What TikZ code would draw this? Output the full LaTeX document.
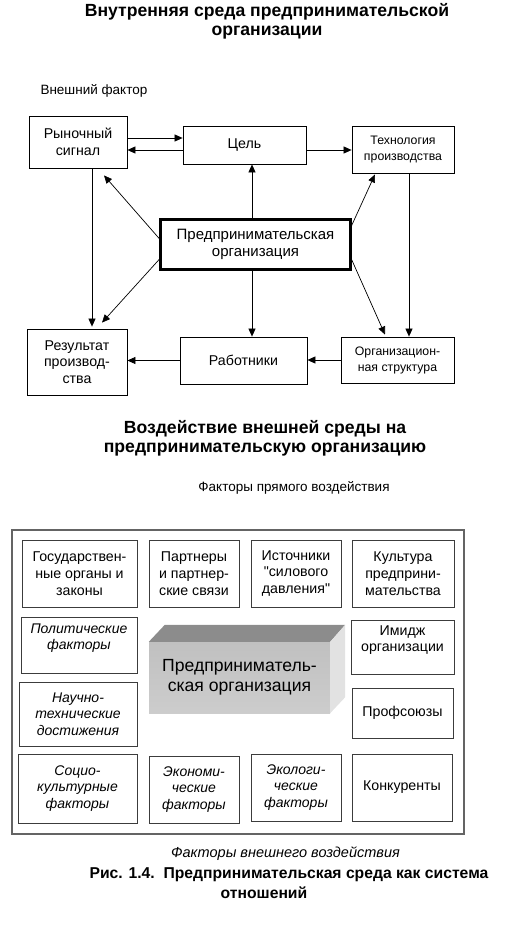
\documentclass[tikz,border=0pt]{standalone}
\usepackage{fontspec}
\setmainfont{Liberation Sans}
\usetikzlibrary{arrows.meta,calc}
\definecolor{frame_grey}{RGB}{100,100,100}
\definecolor{box_grey}{RGB}{60,60,60}
\definecolor{face_grey}{RGB}{192,192,192}
\definecolor{top_grey}{RGB}{140,140,140}
\definecolor{side_grey}{RGB}{226,226,226}
\tikzstyle{box}=[rectangle,draw=black,line width=0.8pt,align=center,
  inner sep=2pt,font=\fontsize{14.2}{16.5}\selectfont]
\tikzstyle{small}=[box,font=\fontsize{12.3}{16}\selectfont]
\tikzstyle{core}=[box,line width=3pt,font=\fontsize{15}{17.5}\selectfont]
\tikzstyle{fbox}=[rectangle,draw=box_grey,line width=0.8pt,align=center,
  inner sep=2pt,font=\fontsize{14.2}{16.7}\selectfont]
\tikzstyle{ifbox}=[fbox,font=\fontsize{14}{16.7}\selectfont\itshape]
\tikzstyle{frame}=[rectangle,draw=frame_grey,line width=1.3pt]
\tikzstyle{front}=[rectangle,top color=face_grey,bottom color=face_grey!80,
  align=center,font=\fontsize{17.6}{20}\selectfont]
\tikzstyle{title}=[align=center,font=\fontsize{17.6}{19}\selectfont\bfseries]
\tikzstyle{caption}=[title,font=\fontsize{15.7}{18}\selectfont\bfseries]
\tikzstyle{note}=[font=\fontsize{13.5}{15}\selectfont]
\tikzstyle{inote}=[note,font=\fontsize{14.5}{16}\selectfont\itshape]
\tikzstyle{arr}=[-{Triangle[length=8pt,width=7pt]},line width=0.7pt]
\tikzstyle{none}=[]

\begin{document}
\begin{tikzpicture}[x=1pt, y=-1pt]
        \useasboundingbox (0, 0) rectangle (523, 937);
        % internal environment
        \node [style=title] (title1) at (267, 21) {Внутренняя среда предпринимательской\\организации};
        \node [style=note, anchor=west] (external) at (37, 91) {Внешний фактор};
		\node [style=box, minimum width=98, minimum height=52] (signal) at (78, 142) {Рыночный\\сигнал};
		\node [style=box, minimum width=123, minimum height=38] (goal) at (244.5, 145) {Цель};
		\node [style=small, minimum width=102, minimum height=47] (tech) at (403, 149.5) {Технология\\производства};
		\node [style=core, minimum width=190, minimum height=50] (org) at (255.5, 244.5) {Предпринимательская\\организация};
		\node [style=box, minimum width=100, minimum height=66] (result) at (77, 362) {Результат\\производ-\\ства};
		\node [style=box, minimum width=127, minimum height=47] (staff) at (243.5, 360.5) {Работники};
		\node [style=small, minimum width=113, minimum height=46] (struct) at (397.5, 360) {Организацион-\\ная структура};
		\draw [style=arr] ([yshift=4pt]signal.east) to ([yshift=4pt]signal.east -| goal.west);
		\draw [style=arr] ([yshift=-8pt]signal.east -| goal.west) to ([yshift=-8pt]signal.east);
		\draw [style=arr] ([yshift=-5pt]goal.east) to ([yshift=-5pt]goal.east -| tech.west);
		\draw [style=arr] ([xshift=-3.5pt]org.north) to ([xshift=-3.5pt]org.north |- goal.south);
		\draw [style=arr] ([xshift=-3.5pt]org.south) to ([xshift=-3.5pt]org.south |- staff.north);
		\draw [style=arr] ([xshift=1.5pt,yshift=4.5pt]org.west) to ([xshift=26pt,yshift=-7pt]signal.south);
		\draw [style=arr] ([xshift=1.5pt,yshift=-13.5pt]org.west) to ([xshift=25pt,yshift=6pt]result.north);
		\draw [style=arr] ([xshift=-1.5pt,yshift=16.5pt]org.east) to ([xshift=-28pt,yshift=-1pt]tech.south);
		\draw [style=arr] ([xshift=-1.5pt,yshift=-12.5pt]org.east) to ([xshift=-12.5pt,yshift=2pt]struct.north);
		\draw [style=arr] ([xshift=14pt]signal.south) to ([xshift=14pt,yshift=2pt]signal.south |- result.north);
		\draw [style=arr] ([xshift=6pt]tech.south) to ([xshift=6pt]tech.south |- struct.north);
		\draw [style=arr] (staff.west) to (staff.west -| result.east);
		\draw [style=arr] (struct.west) to (struct.west -| staff.east);
        % external environment
        \node [style=title] (title2) at (265, 438) {Воздействие внешней среды на\\предпринимательскую организацию};
        \node [style=note] (direct) at (294, 488) {Факторы прямого воздействия};
		\node [style=frame, minimum width=452, minimum height=304] (env) at (238, 682) {};
		\node [style=fbox, minimum width=115, minimum height=67] (gov) at (79.5, 573.5) {Государствен-\\ные органы и\\законы};
		\node [style=fbox, minimum width=90, minimum height=67] (partners) at (194, 573.5) {Партнеры\\и партнер-\\ские связи};
		\node [style=fbox, minimum width=90, minimum height=67] (pressure) at (296, 573.5) {Источники\\\textquotedbl силового\\давления\textquotedbl};
		\node [style=fbox, minimum width=102, minimum height=67] (culture) at (403, 573.5) {Культура\\предприни-\\мательства};
		\node [style=ifbox, minimum width=116, minimum height=56] (politics) at (79, 645) {Политические\\факторы\\~};
		\node [style=fbox, minimum width=103, minimum height=54] (image) at (402.5, 647) {Имидж\\организации\\~};
		\node [style=ifbox, minimum width=118, minimum height=64] (science) at (78, 714) {Научно-\\технические\\достижения};
		\node [style=fbox, minimum width=101, minimum height=50] (unions) at (402.5, 713) {Профсоюзы};
		\node [style=ifbox, minimum width=119, minimum height=69] (social) at (77.5, 788.5) {Социо-\\культурные\\факторы};
		\node [style=ifbox, minimum width=90, minimum height=67] (economic) at (194, 789.5) {Экономи-\\ческие\\факторы};
		\node [style=ifbox, minimum width=90, minimum height=67] (ecology) at (296, 787.5) {Экологи-\\ческие\\факторы};
		\node [style=fbox, minimum width=100, minimum height=67] (rivals) at (402, 787.5) {Конкуренты};
		\node [style=front, minimum width=181, minimum height=71] (firm) at (239.5, 677.5) {Предприниматель-\\ская организация};
		\fill [top_grey] (firm.north west) -- (firm.north east) -- ++(15, -17) -- ([xshift=16pt, yshift=17pt]firm.north west) -- cycle;
		\fill [side_grey] (firm.north east) -- ++(15, -17) -- ([xshift=15pt, yshift=16pt]firm.south east) -- (firm.south east) -- cycle;
        \node [style=inote] (indirect) at (285.5, 854) {Факторы внешнего воздействия};
        \node [style=caption] (cap1) at (289, 875) {Рис. 1.4.\ \ Предпринимательская среда как система};
        \node [style=caption] (cap2) at (264, 893) {отношений};
\end{tikzpicture}
\end{document}
